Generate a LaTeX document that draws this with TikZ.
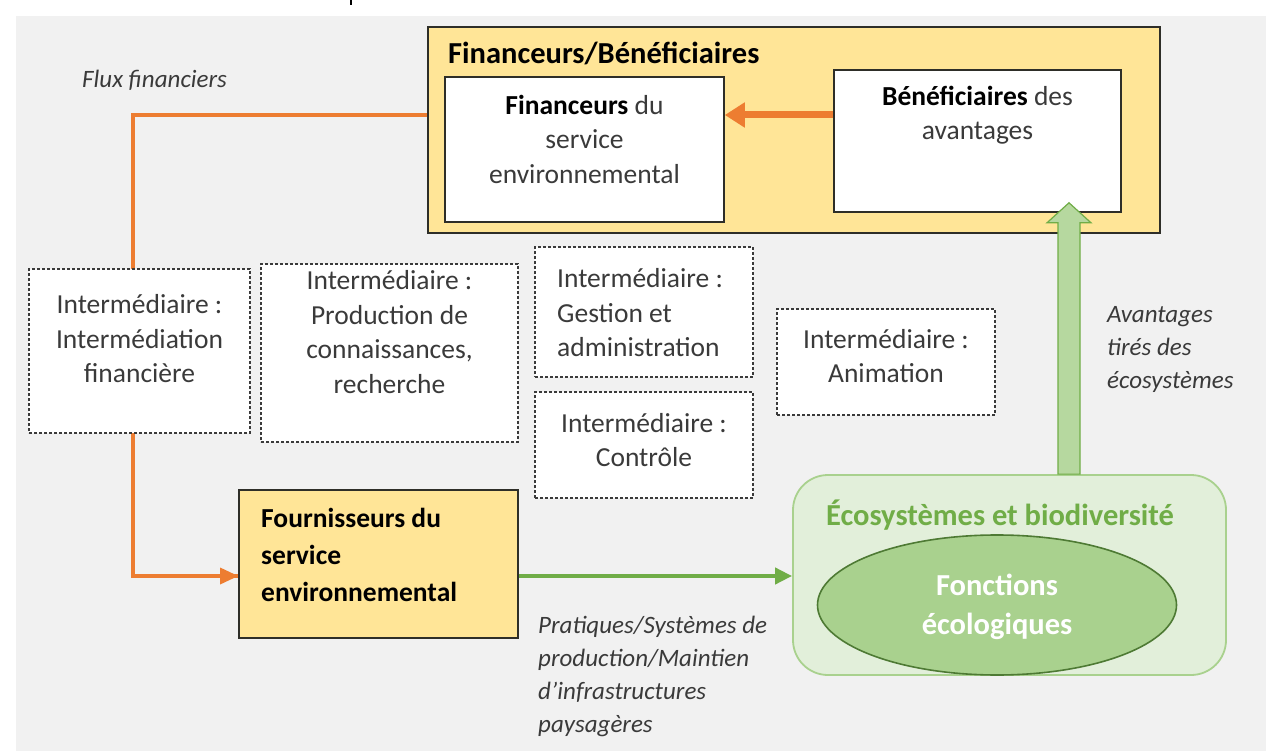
\documentclass[tikz,border=0pt]{standalone}
\usepackage{fontspec}
\setmainfont{Carlito}
\usetikzlibrary{arrows.meta,shapes.geometric,calc}
\definecolor{bggray}{HTML}{F1F1F1}
\definecolor{yel}{HTML}{FFE597}
\definecolor{orng}{HTML}{ED7D31}
\definecolor{grn}{HTML}{70AD47}
\definecolor{lgrn}{HTML}{E2EFDA}
\definecolor{mgrn}{HTML}{A9D18E}
\definecolor{dgrn}{HTML}{4E7A34}
\definecolor{txtgray}{HTML}{3A3A3A}
\definecolor{edge}{HTML}{2E2E28}
\begin{document}
\begin{tikzpicture}[x=1pt,y=-1pt,
  txt/.style={text=txtgray, font=\fontsize{27.5}{34.5}\selectfont, inner sep=0pt},
  itxt/.style={text=txtgray, font=\fontsize{25}{33}\selectfont\itshape, inner sep=0pt, align=left},
  ybox/.style={draw=edge, line width=2pt, fill=yel, inner sep=0pt},
  wbox/.style={draw=edge, line width=1.6pt, fill=white, inner sep=0pt},
  dbox/.style={draw=txtgray, line width=1.4pt, dash pattern=on 3pt off 2pt, fill=white, inner sep=0pt},
  oline/.style={draw=orng, line width=4.5pt},
  gline/.style={draw=grn, line width=4pt}]
\useasboundingbox (0,0) rectangle (1277,751);
\fill[white] (0,0) rectangle (1277,751);
\fill[bggray] (16,16) rectangle (1266,751);
\draw[line width=2pt] (351,0) -- (351,5);
% coordinates for connector levels
\coordinate (oy) at (0,115);
\coordinate (ox) at (133,0);
\coordinate (ly) at (0,576);
\coordinate (gx) at (1069,0);
% top group
\node[ybox, minimum width=732pt, minimum height=206pt] (fb) at (794,130) {};
\node[txt, anchor=west, text=black, font=\fontsize{30.5}{36}\selectfont\bfseries] (fbt) at (448,53) {Financeurs/Bénéficiaires};
\node[wbox, minimum width=279pt, minimum height=145pt] (fin) at (584.5,149.5) {};
\node[txt, align=center] (fint) at (584.5,139) {\textbf{\color{black}Financeurs} du\\service\\environnemental};
\node[wbox, minimum width=287pt, minimum height=142pt] (ben) at (977.5,141) {};
\node[txt, align=center] (bent) at (977.5,115) {\textbf{\color{black}Bénéficiaires} des\\avantages};
% orange flow
\draw[oline] (fb.west |- oy) -| (ox |- ly) -- (238,576) coordinate (oend);
% intermediaries
\node[dbox, minimum width=221pt, minimum height=164pt] (i1) at (139.5,351) {};
\node[txt, align=center] (i1t) at (139.5,339) {Intermédiaire :\\Intermédiation\\financière};
\node[dbox, minimum width=257pt, minimum height=178pt] (i2) at (389.5,353) {};
\node[txt, align=center] (i2t) at (389.5,332) {Intermédiaire :\\Production de\\connaissances,\\recherche};
\node[dbox, minimum width=218pt, minimum height=130pt] (i3) at (644,312) {};
\node[txt, align=left, anchor=west] (i3t) at (557,313) {Intermédiaire :\\Gestion et\\administration};
\node[dbox, minimum width=218pt, minimum height=106pt] (i4) at (644,445) {};
\node[txt, align=center] (i4t) at (644,440) {Intermédiaire :\\Contrôle};
\node[dbox, minimum width=218pt, minimum height=106pt] (i5) at (886,362) {};
\node[txt, align=center] (i5t) at (886,356) {Intermédiaire :\\Animation};
% providers
\node[ybox, line width=1.8pt, minimum width=279pt, minimum height=148pt] (four) at (378.5,564) {};
\node[txt, align=left, anchor=west, text=black, font=\fontsize{27.5}{37}\selectfont\bfseries] (fourt) at (261,555) {Fournisseurs du\\service\\environnemental};
\fill[orng] (four.west |- ly) -- ++(-18,-8.5) -- ++(0,17) -- cycle;
\draw[oline, line cap=butt] (ox |- ly) -- ([xshift=-16pt]four.west |- ly);
% ecosystems
\node[draw=mgrn, line width=1.8pt, fill=lgrn, rounded corners=35pt, minimum width=433pt, minimum height=200pt] (eco) at (1009.5,575) {};
\node[inner sep=0pt, text=grn, font=\fontsize{30.5}{36}\selectfont\bfseries] (ecot) at (1000,515) {Écosystèmes et biodiversité};
\node[ellipse, draw=dgrn, line width=1.6pt, fill=mgrn, minimum width=359pt, minimum height=140pt, inner sep=0pt] (ell) at (997,605) {};
\node[inner sep=0pt, align=center, text=white, font=\fontsize{30.5}{39}\selectfont\bfseries] (ellt) at (997,607) {Fonctions\\écologiques};
% green flow
\draw[gline, -{Triangle[width=16pt,length=17pt]}] (four.east |- ly) -- (eco.west |- ly);
% inner orange arrow
\draw[orng, line width=7pt, -{Triangle[width=24pt,length=20pt]}] (ben.west |- oy) -- (fin.east |- oy);
% big green up arrow
\coordinate (gb) at (eco.north -| gx);
\coordinate (gt) at ([yshift=10pt]ben.south -| gx);
\draw[draw=grn, line width=1.2pt, fill=mgrn!85!white] let \p1=(gb), \p2=(gt) in
  (\x1-11pt,\y1) -- (\x1-11pt,\y2-20pt) -- (\x1-22pt,\y2-20pt) -- (\x1,\y2) -- (\x1+22pt,\y2-20pt) -- (\x1+11pt,\y2-20pt) -- (\x1+11pt,\y1) -- cycle;
% labels
\node[itxt, anchor=west] (flux) at (82,80) {Flux financiers};
\node[itxt, anchor=west] (avt) at (1107,349) {Avantages\\tirés des\\écosystèmes};
\node[itxt, anchor=west] (prat) at (538,676) {Pratiques/Systèmes de\\production/Maintien\\d’infrastructures\\paysagères};
\end{tikzpicture}
\end{document}
